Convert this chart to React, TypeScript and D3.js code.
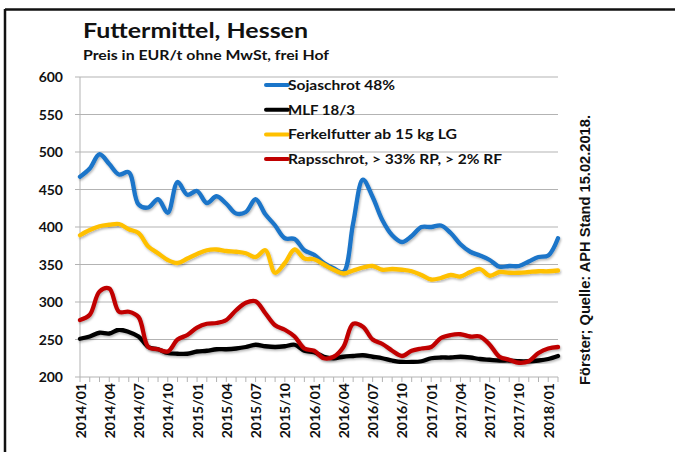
import * as d3 from "d3"

// monthly prices, EUR/t, 2014/01 .. 2018/02
const months = [
	"2014/01", "2014/02", "2014/03", "2014/04", "2014/05", "2014/06", "2014/07", "2014/08", "2014/09", "2014/10", "2014/11", "2014/12",
	"2015/01", "2015/02", "2015/03", "2015/04", "2015/05", "2015/06", "2015/07", "2015/08", "2015/09", "2015/10", "2015/11", "2015/12",
	"2016/01", "2016/02", "2016/03", "2016/04", "2016/05", "2016/06", "2016/07", "2016/08", "2016/09", "2016/10", "2016/11", "2016/12",
	"2017/01", "2017/02", "2017/03", "2017/04", "2017/05", "2017/06", "2017/07", "2017/08", "2017/09", "2017/10", "2017/11", "2017/12",
	"2018/01", "2018/02",
]
const tickLabels = [
	"2014/01", "2014/04", "2014/07", "2014/10", "2015/01", "2015/04", "2015/07", "2015/10",
	"2016/01", "2016/04", "2016/07", "2016/10", "2017/01", "2017/04", "2017/07", "2017/10", "2018/01",
]
const yTicks = [200, 250, 300, 350, 400, 450, 500, 550, 600]

const soja = [467, 478, 497, 484, 470, 473, 430, 426, 437, 419, 460, 443, 448, 432, 441, 431, 418, 420, 437, 417, 402, 385, 384, 369, 363, 352, 345, 340, 405, 463, 440, 409, 389, 380, 388, 400, 400, 402, 392, 377, 367, 362, 356, 347, 348, 348, 354, 360, 362, 385]
const mlf = [251, 254, 259, 258, 263, 260, 254, 240, 237, 232, 231, 231, 234, 235, 237, 237, 238, 240, 243, 241, 240, 241, 243, 235, 233, 227, 225, 227, 228, 229, 227, 225, 222, 220, 220, 221, 225, 226, 226, 227, 226, 224, 223, 222, 222, 221, 221, 222, 224, 228]
const ferkel = [389, 396, 401, 403, 404, 397, 392, 374, 365, 356, 352, 358, 364, 369, 370, 368, 367, 365, 360, 369, 339, 352, 370, 358, 357, 350, 343, 338, 342, 346, 348, 343, 344, 343, 341, 336, 330, 332, 336, 334, 340, 344, 335, 340, 339, 339, 340, 341, 341, 342]
const raps = [276, 283, 314, 318, 287, 287, 280, 240, 237, 234, 250, 256, 266, 271, 272, 276, 289, 299, 301, 285, 269, 263, 254, 238, 235, 225, 227, 240, 271, 267, 250, 244, 235, 228, 235, 238, 240, 252, 256, 257, 254, 254, 243, 227, 223, 219, 221, 232, 238, 240]

const seriesNames = ["Sojaschrot 48%", "MLF 18/3", "Ferkelfutter ab 15 kg LG", "Rapsschrot, > 33% RP, > 2% RF"]
const seriesColors = ["#1a75c9", "#000000", "#ffc000", "#c00000"]
const seriesValues = [soja, mlf, ferkel, raps]
// measured text widths of the legend entries
const legendWidths = [107, 67, 169, 214]

const font = "Lato, 'Open Sans', sans-serif"

const App = () => {
	const width = 675
	const height = 452
	const left = 80
	const right = 558
	const top = 77
	const bottom = 377

	const x = d3.scalePoint<string>().domain(months).range([left, right])
	const y = d3.scaleLinear().domain([200, 600]).range([bottom, top])

	const line = d3
		.line<number>()
		.x((_, i) => x(months[i]) as number)
		.y((d) => y(d))
		.curve(d3.curveCatmullRom.alpha(0.5))

	return (
		<svg width={width} height={height} style={{ position: "absolute", left: 0, top: 0, background: "#fff" }}>
			<defs>
				<filter id="shadow" x="-5%" y="-5%" width="110%" height="110%">
					<feDropShadow dx="1" dy="1.5" stdDeviation="1" floodColor="#000" floodOpacity="0.3" />
				</filter>
			</defs>

			{/* frame */}
			<line x1={5} x2={675} y1={9.5} y2={9.5} stroke="#111" strokeWidth={2.5} />
			<line x1={5} x2={5} y1={9} y2={452} stroke="#111" strokeWidth={2.5} />

			<text x={83} y={38} fontFamily={font} fontWeight="bold" fontSize={21} fill="#111" textLength={225} lengthAdjust="spacingAndGlyphs">
				Futtermittel, Hessen
			</text>
			<text x={83} y={60} fontFamily={font} fontWeight="bold" fontSize={14} fill="#111" textLength={246} lengthAdjust="spacingAndGlyphs">
				Preis in EUR/t ohne MwSt, frei Hof
			</text>

			{/* grid + y axis */}
			{yTicks.map((t) => (
				<g key={t}>
					{t > 200 && <line x1={left} x2={right} y1={y(t)} y2={y(t)} stroke="#b3b3b3" strokeWidth={1} />}
					<line x1={left - 5} x2={left} y1={y(t)} y2={y(t)} stroke="#b3b3b3" />
					<text x={63} y={y(t) + 5} textAnchor="end" fontFamily={font} fontWeight="bold" fontSize={14} fill="#111">
						{t}
					</text>
				</g>
			))}
			<line x1={left} x2={left} y1={top} y2={bottom} stroke="#b3b3b3" />
			<line x1={left} x2={right} y1={bottom} y2={bottom} stroke="#b3b3b3" />
			{months.map((m) => (
				<line key={m} x1={x(m)} x2={x(m)} y1={bottom} y2={bottom + 5} stroke="#b3b3b3" />
			))}
			{tickLabels.map((m) => (
				<text
					key={m}
					transform={`translate(${(x(m) as number) + 5.5},383) rotate(-90)`}
					textAnchor="end"
					fontFamily={font}
					fontWeight="bold"
					fontSize={14}
					fill="#111"
				>
					{m}
				</text>
			))}

			{/* lines */}
			{seriesValues.map((vals, i) => (
				<path
					key={seriesNames[i]}
					d={line(vals) as string}
					fill="none"
					stroke={seriesColors[i]}
					strokeWidth={4.3}
					strokeLinejoin="round"
					strokeLinecap="round"
					filter="url(#shadow)"
				/>
			))}

			{/* legend */}
			{seriesNames.map((name, i) => (
				<g key={name} transform={`translate(266,${85 + i * 24.7})`}>
					<line x1={0} x2={22} y1={0} y2={0} stroke={seriesColors[i]} strokeWidth={4} strokeLinecap="round" />
					<text
						x={22}
						y={4.8}
						fontFamily={font}
						fontWeight="bold"
						fontSize={14}
						fill="#111"
						textLength={legendWidths[i]}
						lengthAdjust="spacingAndGlyphs"
					>
						{name}
					</text>
				</g>
			))}

			<text
				transform="translate(590,385) rotate(-90)"
				fontFamily="'Liberation Sans', Arial, sans-serif"
				fontWeight="bold"
				fontSize={14}
				fill="#111"
				textLength={270}
				lengthAdjust="spacingAndGlyphs"
			>
				Förster; Quelle: APH Stand 15.02.2018.
			</text>
		</svg>
	)
}

export default App
